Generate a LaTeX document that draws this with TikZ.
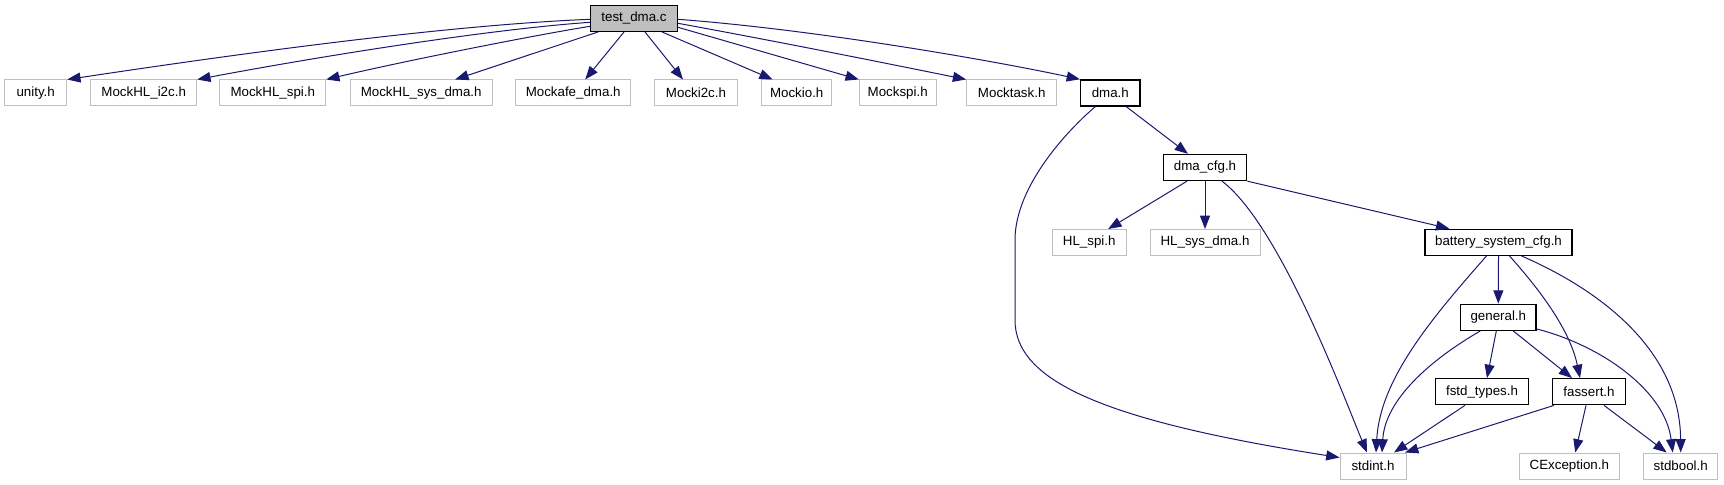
\documentclass[tikz,border=0pt]{standalone}
\usepackage{fontspec}
\setmainfont{Liberation Sans}
\usetikzlibrary{arrows.meta,calc}
\definecolor{edgeblue}{HTML}{191970}
\definecolor{boxgray}{HTML}{BFBFBF}
\begin{document}
\begin{tikzpicture}[x=0.75pt,y=-0.75pt,
  base/.style={draw, rectangle, inner sep=0pt, minimum height=19.5pt, font=\fontsize{10pt}{12pt}\selectfont},
  gbox/.style={base, draw=boxgray, line width=0.75pt},
  kbox/.style={base, draw=black, line width=1pt},
  bw/.style={minimum width=#1*0.75pt},
  edge/.style={draw=edgeblue, line width=0.75pt, -{Triangle[length=10pt,width=7.5pt]}}
]
\useasboundingbox (0,0) rectangle (1724,485);
% nodes
\node[kbox, bw=86.6, fill=boxgray] (test) at (634,18.3) {test\_dma.c};
\node[gbox, bw=62] (unity) at (35.7,93) {unity.h};
\node[gbox, bw=106] (i2c) at (143.7,93) {MockHL\_i2c.h};
\node[gbox, bw=105.7] (spi) at (272.8,93) {MockHL\_spi.h};
\node[gbox, bw=142.3] (sysdma) at (421.2,93) {MockHL\_sys\_dma.h};
\node[gbox, bw=115] (afe) at (573.2,93) {Mockafe\_dma.h};
\node[gbox, bw=83.4] (mocki2c) at (696,93) {Mocki2c.h};
\node[gbox, bw=70] (mockio) at (796.7,93) {Mockio.h};
\node[gbox, bw=76.7] (mockspi) at (897.7,93) {Mockspi.h};
\node[gbox, bw=90] (mocktask) at (1011.7,93) {Mocktask.h};
\node[kbox, bw=59.3] (dma) at (1110.3,93) {dma.h};
\node[kbox, bw=83.4] (dmacfg) at (1205,167.5) {dma\_cfg.h};
\node[gbox, bw=73.7] (hlspi) at (1089.2,242.5) {HL\_spi.h};
\node[gbox, bw=110] (hlsysdma) at (1205,242.5) {HL\_sys\_dma.h};
\node[kbox, bw=147] (battery) at (1498.5,242.3) {battery\_system\_cfg.h};
\node[kbox, bw=75.3] (general) at (1498.3,317.3) {general.h};
\node[kbox, bw=93.4] (fstd) at (1482,391.7) {fstd\_types.h};
\node[kbox, bw=72.6] (fassert) at (1589,391.7) {fassert.h};
\node[gbox, bw=66] (stdint) at (1373,466) {stdint.h};
\node[gbox, bw=100] (cexc) at (1569.3,466) {CException.h};
\node[gbox, bw=74] (stdbool) at (1680.7,466) {stdbool.h};
% edges from test_dma.c
\draw[edge] ($(test.west)+(0,1)$) .. controls (450,25) and (250,52) .. (unity.north east);
\draw[edge] ($(test.west)+(0,4)$) .. controls (480,30) and (300,60) .. (i2c.north east);
\draw[edge] ($(test.west)+(0,8)$) .. controls (530,36) and (400,62) .. (spi.north east);
\draw[edge] ($(test.south west)+(8,0)$) -- ($(sysdma.north)+(34,0)$);
\draw[edge] ($(test.south)+(-10,0)$) -- ($(afe.north)+(12,0)$);
\draw[edge] ($(test.south)+(11,0)$) -- ($(mocki2c.north)+(-13,0)$);
\draw[edge] ($(test.south)+(28,0)$) -- ($(mockio.north)+(-24,0)$);
\draw[edge] ($(test.east)+(0,9)$) -- (mockspi.north west);
\draw[edge] ($(test.east)+(0,5)$) .. controls (780,42) and (880,62) .. (mocktask.north west);
\draw[edge] ($(test.east)+(0,1)$) .. controls (820,30) and (1000,62) .. (dma.north west);
% dma.h
\draw[edge] ($(dma.south)+(16,0)$) -- ($(dmacfg.north)+(-17,0)$);
\draw[edge] ($(dma.south)+(-15,0)$) .. controls (1070,128) and (1015,185) .. (1015,240)
  -- (1015,320) .. controls (1015,380) and (1100,420) .. ($(stdint.north west)+(0,5)$);
% dma_cfg.h
\draw[edge] ($(dmacfg.south)+(-18,0)$) -- ($(hlspi.north)+(19,0)$);
\draw[edge] (dmacfg.south) -- (hlsysdma.north);
\draw[edge] ($(dmacfg.south)+(17,0)$) .. controls (1280,225) and (1345,400) .. ($(stdint.north)+(-6,0)$);
\draw[edge] (dmacfg.south east) -- ($(battery.north west)+(25,0)$);
% battery_system_cfg.h
\draw[edge] (battery.south) -- (general.north);
\draw[edge] ($(battery.south)+(-12,0)$) .. controls (1430,320) and (1380,380) .. ($(stdint.north)+(3,0)$);
\draw[edge] ($(battery.south)+(11,0)$) .. controls (1540,290) and (1570,330) .. ($(fassert.north)+(-9,0)$);
\draw[edge] ($(battery.south)+(23,0)$) .. controls (1600,290) and (1680,350) .. (stdbool.north);
% general.h
\draw[edge] ($(general.south)+(-18,0)$) .. controls (1430,360) and (1385,400) .. ($(stdint.north)+(9,0)$);
\draw[edge] ($(general.south)+(-2,0)$) -- ($(fstd.north)+(5,0)$);
\draw[edge] ($(general.south)+(15,0)$) -- ($(fassert.north)+(-17,0)$);
\draw[edge] ($(general.south east)+(0,-2)$) .. controls (1600,345) and (1665,390) .. ($(stdbool.north)+(-8,0)$);
% fstd_types.h
\draw[edge] ($(fstd.south)+(-17,0)$) -- ($(stdint.north)+(21,0)$);
% fassert.h
\draw[edge] ($(fassert.south west)+(2,0)$) -- ($(stdint.north)+(32,0)$);
\draw[edge] ($(fassert.south)+(-3,0)$) -- ($(cexc.north)+(6,0)$);
\draw[edge] ($(fassert.south)+(15,0)$) -- ($(stdbool.north)+(-14,0)$);
\end{tikzpicture}
\end{document}
